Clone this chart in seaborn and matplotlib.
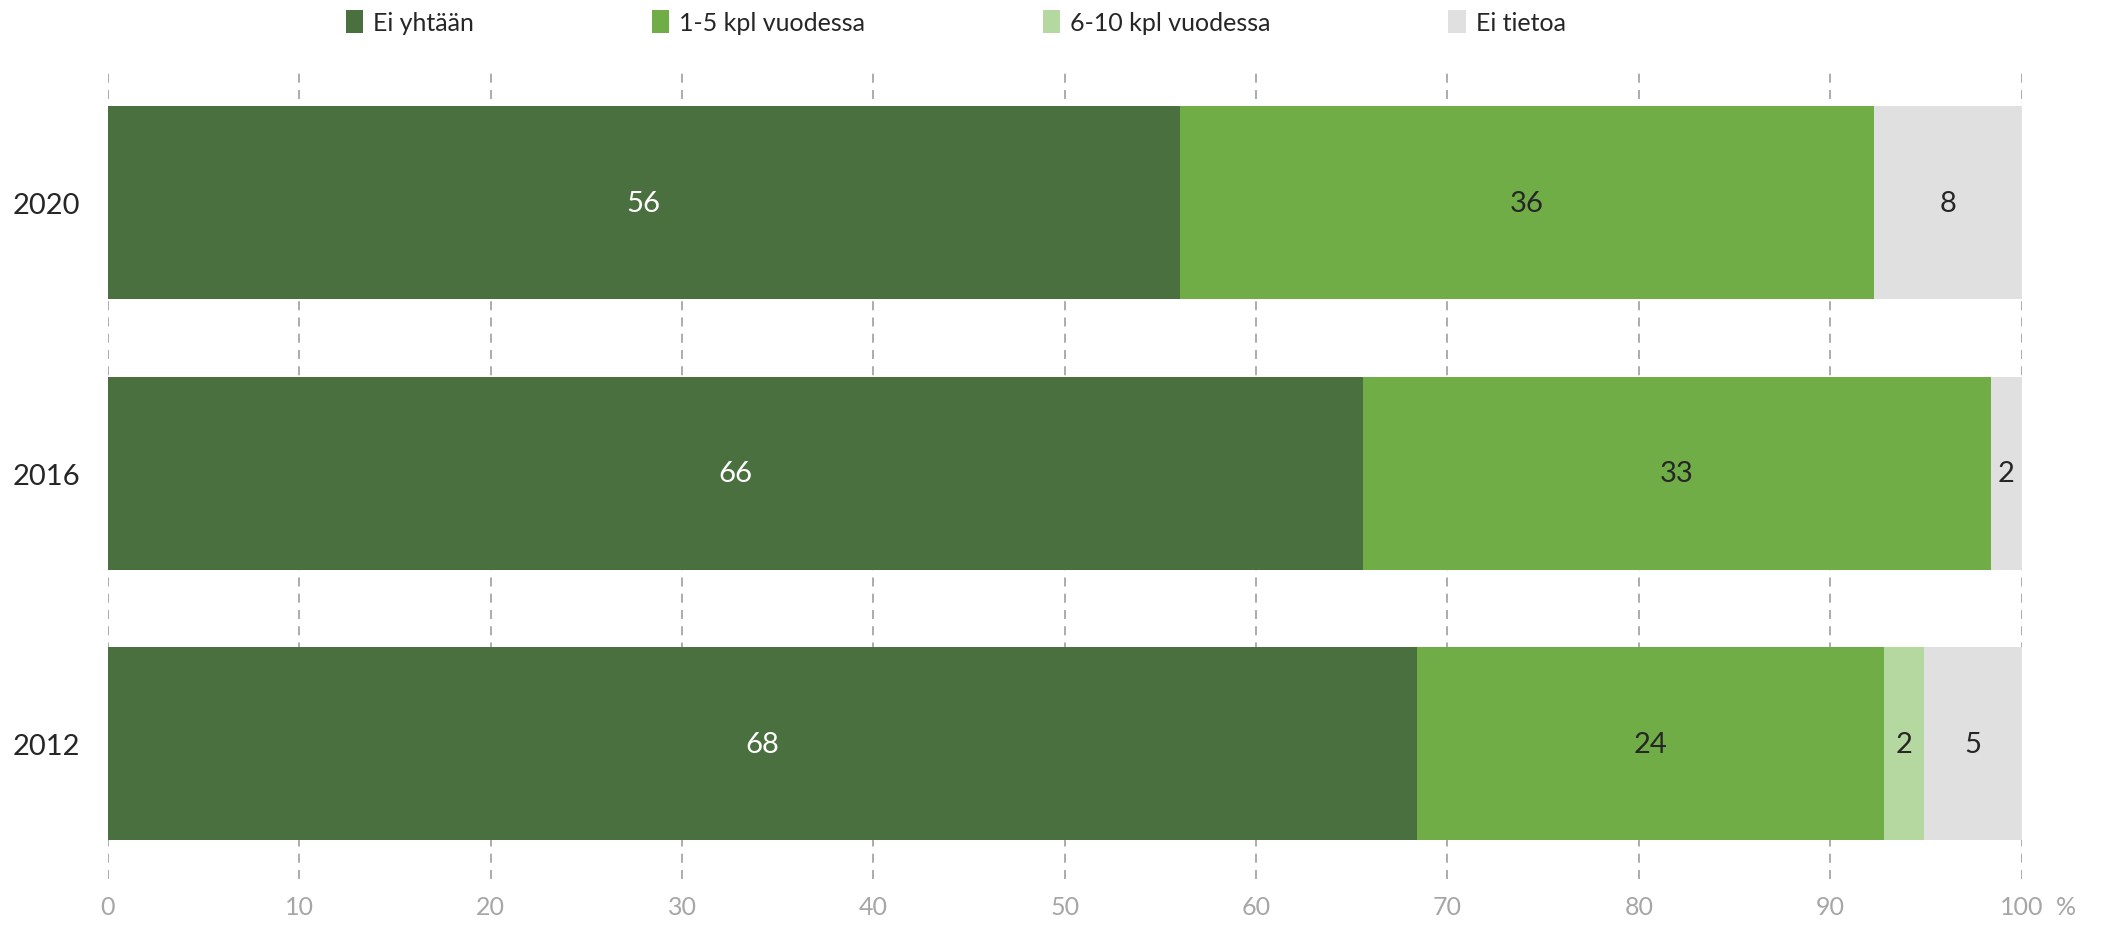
import matplotlib
matplotlib.use("Agg")
import matplotlib.pyplot as plt
import numpy as np
import pandas as pd
import seaborn as sns

# data (percent)
years = ["2020", "2016", "2012"]
categories = ["Ei yhtään", "1-5 kpl vuodessa", "6-10 kpl vuodessa", "Ei tietoa"]
ei_yhtaan = [56.0, 65.6, 68.4]
kpl_1_5 = [36.3, 32.8, 24.4]
kpl_6_10 = [0.0, 0.0, 2.1]
ei_tietoa = [7.7, 1.6, 5.1]

colors = ["#4A7040", "#70AD47", "#B5D8A0", "#E0E0E0"]
label_colors = ["white", "#262626", "#262626", "#262626"]

sns.set_theme(style="white")
plt.rcParams["font.family"] = ["Lato", "DejaVu Sans"]

df = pd.DataFrame({
    "year": years,
    categories[0]: ei_yhtaan,
    categories[1]: kpl_1_5,
    categories[2]: kpl_6_10,
    categories[3]: ei_tietoa,
})
cum = df[categories].cumsum(axis=1)

fig = plt.figure(figsize=(21.08, 9.28), dpi=100)
ax = fig.add_axes([0.0512, 0.052, 0.9078, 0.874])

# stacked bars: draw cumulative totals from the back to the front
for cat, col in reversed(list(zip(categories, colors))):
    sns.barplot(data=cum.assign(year=years), x=cat, y="year", order=years,
                color=col, width=0.713, saturation=1, ax=ax, label=cat,
                linewidth=0)

# value labels
for i, y in enumerate(years):
    for cat, lc in zip(categories, label_colors):
        v = df.loc[i, cat]
        if v <= 0:
            continue
        ax.text(cum.loc[i, cat] - v / 2, i, f"{v:.0f}", ha="center", va="center",
                fontsize=21, color=lc)

ax.set_xlim(0, 100)
ax.set_ylim(2.5, -0.5)
ax.set_xticks(np.arange(0, 101, 10))
ax.xaxis.grid(True, color="#A6A6A6", linestyle=(0, (5, 4)), linewidth=1.3)
ax.set_axisbelow(True)
for s in ax.spines.values():
    s.set_visible(False)
ax.set_xlabel("")
ax.set_ylabel("")
ax.tick_params(axis="x", colors="#A6A6A6", labelsize=18, length=0, pad=12)
ax.tick_params(axis="y", colors="#262626", labelsize=21, length=0, pad=20)
for t in ax.get_xticklabels():
    t.set_color("#A6A6A6")
ax.text(1.023, -0.034, "%", transform=ax.transAxes, fontsize=18, color="#A6A6A6",
        ha="center", va="center")

handles, labels = ax.get_legend_handles_labels()
order = [labels.index(c) for c in categories]
ax.legend([handles[k] for k in order], [labels[k] for k in order], ncol=4,
          loc="center", bbox_to_anchor=(0.443, 1.056), frameon=False, fontsize=18,
          handlelength=0.7, handleheight=1.0, handletextpad=0.4, columnspacing=7.1,
          labelcolor="#262626")

fig.savefig("out.png", dpi=100)
